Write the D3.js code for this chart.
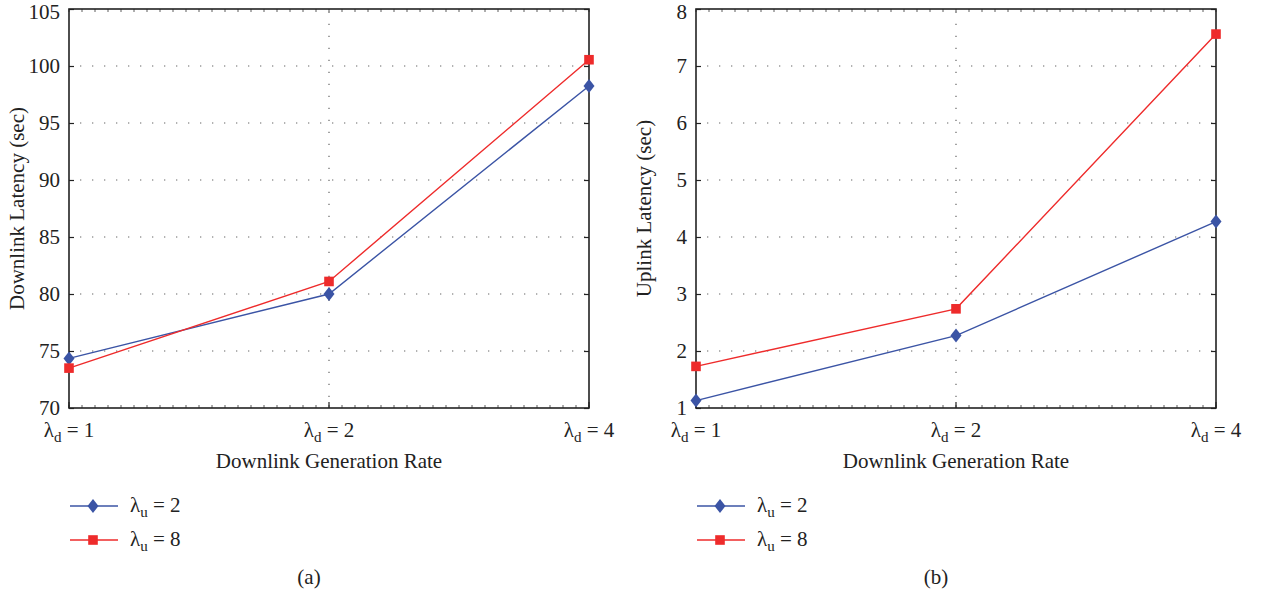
<!DOCTYPE html>
<html><head><meta charset="utf-8">
<script src="https://cdn.jsdelivr.net/npm/d3@7"></script>
<style>
body{margin:0;background:#fff;}
svg{display:block;font-family:"Liberation Serif","DejaVu Serif",serif;}
</style></head>
<body><svg id="c" width="1263" height="597"></svg>
<script>
const categories = ["1", "2", "4"];
const downlinkL2 = [74.35, 80.0, 98.25];
const downlinkL8 = [73.5, 81.1, 100.55];
const uplinkL2 = [1.13, 2.27, 4.27];
const uplinkL8 = [1.73, 2.74, 7.56];
const downTicks = [70, 75, 80, 85, 90, 95, 100, 105];
const upTicks = [1, 2, 3, 4, 5, 6, 7, 8];
const seriesNames = ["2", "8"];
const panelLabels = ["(a)", "(b)"];

const BLUE = "#3b54a5", RED = "#ee2b2b";
const FS = 21, SUB = 15;
const svg = d3.select("#c");

function panel(ox, yLabel, ticks, s1, s2, tag) {
  const g = svg.append("g").attr("transform", `translate(${ox},0)`);
  const x = d3.scaleLinear().domain([0, categories.length - 1]).range([69, 589]);
  const y = d3.scaleLinear().domain([ticks[0], ticks[ticks.length - 1]]).range([408, 9]);
  const L = 69, R = 589, T = 9, B = 408;

  // grid dotted
  g.append("g").selectAll("line").data(ticks.slice(1, -1)).join("line")
    .attr("x1", L).attr("x2", R).attr("y1", d => y(d)).attr("y2", d => y(d))
    .attr("stroke", "#666").attr("stroke-width", 1.2).attr("stroke-dasharray", "1.3,10.7")
    .attr("stroke-dashoffset", -11);
  g.append("g").selectAll("line").data(d3.range(1, categories.length - 1)).join("line")
    .attr("x1", d => x(d)).attr("x2", d => x(d)).attr("y1", B).attr("y2", T)
    .attr("stroke", "#666").attr("stroke-width", 1.2).attr("stroke-dasharray", "1.3,10.7")
    .attr("stroke-dashoffset", -11);

  // minor x ticks top & bottom
  const minor = d3.range(0, categories.length - 1 + 1e-6, 0.05);
  g.append("g").selectAll("line").data(minor).join("line")
    .attr("x1", d => x(d)).attr("x2", d => x(d)).attr("y1", B).attr("y2", B - 3)
    .attr("stroke", "#333").attr("stroke-width", 0.8);
  g.append("g").selectAll("line").data(minor).join("line")
    .attr("x1", d => x(d)).attr("x2", d => x(d)).attr("y1", T).attr("y2", T + 3)
    .attr("stroke", "#333").attr("stroke-width", 0.8);
  // major x ticks
  g.append("g").selectAll("line").data(d3.range(categories.length)).join("line")
    .attr("x1", d => x(d)).attr("x2", d => x(d)).attr("y1", B).attr("y2", B - 6)
    .attr("stroke", "#222").attr("stroke-width", 1.2);

  // y axes via d3
  const yl = g.append("g").attr("transform", `translate(${L},0)`)
    .call(d3.axisLeft(y).tickValues(ticks).tickSize(-5).tickPadding(9).tickFormat(d3.format("d")));
  yl.select(".domain").remove();
  yl.selectAll("line").attr("stroke", "#222").attr("stroke-width", 1.2);
  yl.selectAll("text").attr("font-size", FS).attr("fill", "#222").attr("font-family", "Liberation Serif, serif");
  // keep the top label inside the page
  yl.selectAll("text").filter(d => d === ticks[ticks.length - 1]).attr("y", 3);
  const yr = g.append("g").attr("transform", `translate(${R},0)`)
    .call(d3.axisRight(y).tickValues(ticks).tickSize(-5).tickFormat(""));
  yr.select(".domain").remove();
  yr.selectAll("line").attr("stroke", "#222").attr("stroke-width", 1.2);

  // frame
  g.append("rect").attr("x", L).attr("y", T).attr("width", R - L).attr("height", B - T)
    .attr("fill", "none").attr("stroke", "#222").attr("stroke-width", 1.6);

  // x tick labels
  const xt = g.append("g").selectAll("text").data(categories).join("text")
    .attr("x", (d, i) => x(i)).attr("y", 437).attr("text-anchor", "middle")
    .attr("font-size", FS).attr("fill", "#222").attr("xml:space", "preserve");
  xt.append("tspan").text("λ");
  xt.append("tspan").attr("font-size", SUB).attr("dy", 5).text("d");
  xt.append("tspan").attr("dy", -5).text(d => " = " + d);

  // axis titles
  g.append("text").attr("x", (L + R) / 2).attr("y", 468).attr("text-anchor", "middle")
    .attr("font-size", FS).attr("fill", "#222").text("Downlink Generation Rate");
  g.append("text").attr("transform", `translate(24,${(T + B) / 2}) rotate(-90)`)
    .attr("text-anchor", "middle").attr("font-size", FS).attr("fill", "#222").text(yLabel);

  // series
  const line = d3.line().x((d, i) => x(i)).y(d => y(d));
  const sers = [{v: s1, c: BLUE, m: "d"}, {v: s2, c: RED, m: "s"}];
  sers.forEach(s => {
    g.append("path").datum(s.v).attr("d", line).attr("fill", "none")
      .attr("stroke", s.c).attr("stroke-width", 1.4);
  });
  function marker(sel, m, c) {
    if (m === "d") sel.append("path").attr("d", "M0,-7L5.5,0L0,7L-5.5,0Z").attr("fill", c);
    else sel.append("rect").attr("x", -4.8).attr("y", -4.8).attr("width", 9.6).attr("height", 9.6).attr("fill", c);
  }
  sers.forEach(s => {
    s.v.forEach((v, i) => {
      const mg = g.append("g").attr("transform", `translate(${x(i)},${y(v)})`);
      marker(mg, s.m, s.c);
    });
  });

  // legend
  sers.forEach((s, i) => {
    const ly = 506 + i * 34;
    g.append("line").attr("x1", 70).attr("x2", 118).attr("y1", ly).attr("y2", ly)
      .attr("stroke", s.c).attr("stroke-width", 1.4);
    marker(g.append("g").attr("transform", `translate(93,${ly})`), s.m, s.c);
    const t = g.append("text").attr("x", 130).attr("y", ly + 6).attr("font-size", FS)
      .attr("fill", "#222").attr("xml:space", "preserve");
    t.append("tspan").text("λ");
    t.append("tspan").attr("font-size", SUB).attr("dy", 5).text("u");
    t.append("tspan").attr("dy", -5).text(" = " + seriesNames[i]);
  });

  g.append("text").attr("x", 309).attr("y", 584).attr("text-anchor", "middle")
    .attr("font-size", FS).attr("fill", "#222").text(tag);
}

panel(0, "Downlink Latency (sec)", downTicks, downlinkL2, downlinkL8, panelLabels[0]);
panel(627, "Uplink Latency (sec)", upTicks, uplinkL2, uplinkL8, panelLabels[1]);
</script></body></html>
